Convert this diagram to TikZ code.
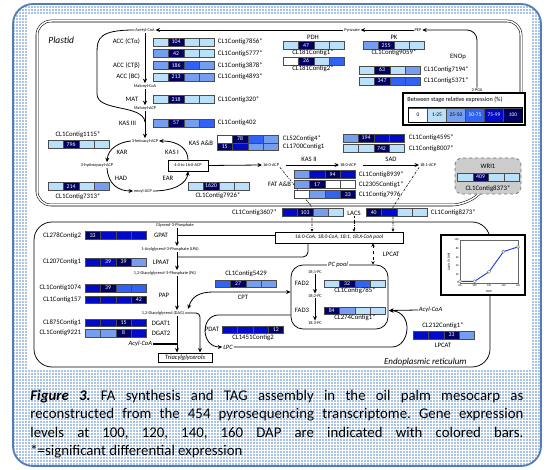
\documentclass[tikz,border=0pt]{standalone}
\usepackage{fontspec}
\setmainfont{Carlito}
\usetikzlibrary{arrows.meta,positioning}

\definecolor{lv0}{RGB}{255,255,255}
\definecolor{lv1}{RGB}{186,224,250}
\definecolor{lv2}{RGB}{118,158,240}
\definecolor{lv3}{RGB}{48,98,245}
\definecolor{lv4}{RGB}{0,10,200}
\definecolor{lv5}{RGB}{0,0,100}
\definecolor{frameblue}{RGB}{84,124,182}
\definecolor{gridblue}{RGB}{170,196,232}
\definecolor{wrifill}{RGB}{204,204,204}
\definecolor{plotline}{RGB}{30,50,240}

\tikzset{every picture/.style={line width=0.75pt}}
\tikzset{
  cell/.style={draw=black!70, line width=0.4pt, minimum width=15.4pt, minimum height=7.6pt,
    inner sep=0pt, text=white, font=\fontsize{5.8}{6}\selectfont},
  legcell/.style={draw=black!70, line width=0.4pt, minimum width=19pt, minimum height=14pt,
    inner sep=0pt, font=\fontsize{5.4}{6}\selectfont},
  met/.style={font=\fontsize{4.3}{5}\selectfont, inner sep=0.6pt},
  enz/.style={font=\fontsize{6.7}{7}\selectfont, inner sep=0.6pt},
  ctg/.style={font=\fontsize{6.8}{7}\selectfont, inner sep=0.6pt},
  flow/.style={line width=0.8pt, -{Stealth[length=4.5pt,width=4pt]}},
  fadash/.style={line width=0.6pt, dash pattern={on 2.2pt off 1.2pt on 0.6pt off 1.2pt}, -{Stealth[length=3pt,width=3pt]}},
  membrane/.style={double, double distance=1.5pt, line width=0.55pt},
  tick/.style={inner sep=0.5pt, font=\fontsize{2.8}{3}\selectfont},
  capline/.style={anchor=west, inner sep=0pt, font=\fontsize{14.8}{18}\selectfont\frenchspacing},
}

% four cells, one per stage (100, 120, 140, 160 DAP)
\newcommand{\exbar}[4]{%
  \foreach \c/\t [count=\i] in {#4}
    \node[cell, fill=\c] (#1\i) at (#2+\i*15.4-7.7, #3) {\t};
}

\begin{document}
\begin{tikzpicture}[x=1pt,y=-1pt]
\useasboundingbox (0,0) rectangle (551,470);
%Shape: framed backdrop
\fill[gridblue, rounded corners=20pt] (13,4) rectangle (541,466);
\begin{scope}
\clip[rounded corners=20pt] (13,4) rectangle (541,466);
\draw[white, line width=1pt, step=3pt] (13,4) grid (541,466);
\end{scope}
\draw[frameblue, line width=1.8pt, rounded corners=20pt] (13,4) rectangle (541,466);
\fill[white] (28,14) rectangle (532,370);

%Double Lines: plastid envelope
\draw[membrane, rounded corners=14pt] (521,110) -- (521,21) -- (37,21) -- (37,205) -- (466,205) -- (486,188);
\draw[membrane] (493,118) -- (493,170);
%Rounded Rect: ER
\draw[rounded corners=18pt] (34,222) rectangle (490,367);

% Text Node
\node[anchor=west, inner sep=0pt, font=\fontsize{9.5}{10}\selectfont\itshape] (plastid) at (48,40) {Plastid};
\node[anchor=east, inner sep=0pt, font=\fontsize{9}{10}\selectfont\itshape] (er) at (467,362) {Endoplasmic reticulum};

%% glycolysis end and ACC / MAT
\node[met] (acoa) at (145,30) {Acetyl-CoA};
\node[met] (pyr) at (352,30) {Pyruvate};
\node[met] (pep) at (418,30) {PEP};
\node[met] (pga) at (477,90) {2-PGA};
\node[met] (malcoa) at (145,86) {Malonyl-CoA};
\node[met] (malacp) at (145,108) {Malonyl-ACP};
\node[met] (ketoacyl) at (145,141) {3-ketoacyl-ACP};
\draw[flow] (pyr) -- (acoa);
\draw[flow] (pep) -- (pyr);
\draw[flow, rounded corners=10pt] (pga.north) |- (pep.east);
\draw[flow] (acoa) -- (malcoa);
\draw[flow] (malcoa) -- (malacp);
\draw[flow] (malacp) -- (ketoacyl);
\draw[line width=0.8pt] (acoa.west) .. controls (100,30) and (97,38) .. (97,52) -- (97,94) .. controls (97,112) and (143,104) .. (145,122);

\node[enz, anchor=east] (acca) at (141,42) {ACC (CTα)};
\node[enz, anchor=east] (accb) at (141,65.5) {ACC (CTβ)};
\node[enz, anchor=east] (accc) at (141,77) {ACC (BC)};
\node[enz, anchor=east] (mat) at (139,99.5) {MAT};
\exbar{acc1-}{153}{42}{lv1/{},lv5/104,lv1/{},lv1/{}}
\exbar{acc2-}{153}{53.5}{lv2/{},lv5/42,lv1/{},lv1/{}}
\exbar{acc3-}{153}{65.5}{lv2/{},lv5/186,lv3/{},lv2/{}}
\exbar{acc4-}{153}{77}{lv1/{},lv5/213,lv2/{},lv2/{}}
\exbar{mat-}{153}{99.5}{lv1/{},lv5/218,lv1/{},lv1/{}}
\node[ctg, anchor=west] (lacc1) at (217,42) {CL1Contig7856*};
\node[ctg, anchor=west] (lacc2) at (217,53.5) {CL1Contig5777*};
\node[ctg, anchor=west] (lacc3) at (217,65.5) {CL1Contig3878*};
\node[ctg, anchor=west] (lacc4) at (217,77) {CL1Contig4893*};
\node[ctg, anchor=west] (lmat) at (217,99.5) {CL1Contig320*};

%% PDH, PK, ENOp
\node[enz] (pdh) at (313,37) {PDH};
\exbar{pdh1-}{283}{45.5}{lv1/{},lv5/47,lv1/{},lv1/{}}
\node[ctg] (lpdh1) at (313,53) {CL181Contig1*};
\exbar{pdh2-}{283}{61}{lv0/{},lv5/26,lv1/{},lv3/{}}
\node[ctg] (lpdh2) at (313,69) {CL181Contig2*};
\node[enz] (pk) at (394,37) {PK};
\exbar{pk-}{363}{45.5}{lv2/{},lv5/255,lv1/{},lv1/{}}
\node[ctg] (lpk) at (394,53) {CL1Contig9059*};
\node[enz] (eno) at (458,57) {ENOp};
\exbar{eno1-}{359}{70}{lv1/{},lv5/63,lv1/{},lv2/{}}
\exbar{eno2-}{359}{81}{lv1/{},lv5/347,lv3/{},lv3/{}}
\node[ctg, anchor=west] (leno1) at (423,70) {CL1Contig7194*};
\node[ctg, anchor=west] (leno2) at (423,81) {CL1Contig5371*};

%% legend
\node[draw, line width=1.3pt, fill=white, minimum width=122pt, minimum height=32pt, inner sep=0pt] (legend) at (464,109) {};
\node[anchor=west, inner sep=0pt, font=\fontsize{6.2}{7}\selectfont] (legtitle) at (407,100) {Between stage relative expression (\%)};
\foreach \c/\t/\k [count=\i] in {lv0/0/black, lv1/1-25/black, lv2/25-50/black, lv3/50-75/white, lv4/75-99/white, lv5/100/white}
  \node[legcell, fill=\c, text=\k] (key\i) at (399+\i*19, 115) {\t};
\draw[line width=0.9pt] (key1.north west) rectangle (key6.south east);

%% WRI1
\node[draw=black!55, dashed, fill=wrifill, rounded corners=7pt, minimum width=66pt, minimum height=36pt] (wribox) at (488,176) {};
\node[enz] (wri) at (488,166) {WRI1};
\exbar{wri-}{457.5}{177}{lv1/{},lv5/409,lv1/{},lv1/{}}
\node[ctg] (lwri) at (488,188.5) {CL1Contig8373*};

%% fatty acid synthase cycle
\node[enz, anchor=east] (kas3) at (137,123) {KAS III};
\exbar{kas3-}{153}{123}{lv2/{},lv5/57,lv2/{},lv3/{}}
\node[ctg, anchor=west] (lkas3) at (217,123) {CL1Contig402};
\node[met] (hydroxy) at (97,165) {3-hydroxyacyl-ACP};
\node[met] (enoyl) at (143,191) {enoyl-ACP};
\node[draw, met, line width=0.5pt, minimum width=40pt, minimum height=11pt] (acpbox) at (188,165.5) {4:0 to 16:0-ACP};
\node[met] (c16) at (271,165) {16:0-ACP};
\node[met] (c180) at (348,165) {18:0-ACP};
\node[met] (c181) at (428,165) {18:1-ACP};
\draw[flow] (ketoacyl.west) .. controls (120,142) and (108,148) .. ([xshift=10pt]hydroxy.north);
\draw[flow] ([xshift=10pt]hydroxy.south) .. controls (108,184) and (118,191) .. (enoyl.west);
\draw[flow] (enoyl.east) .. controls (175,191) and (187,183) .. (acpbox.south);
\draw[flow] (acpbox.north) .. controls (188,150) and (180,141) .. (ketoacyl.east);
\draw[flow] (acpbox.east) -- (c16.west);
\draw[flow, shorten <=6pt] (c16.east) -- (c180.west);
\draw[flow, shorten <=6pt] (c180.east) -- (c181.west);
\node[enz] (kar) at (122,152) {KAR};
\node[enz] (had) at (121,178) {HAD};
\node[enz] (ear) at (168,178) {EAR};
\node[enz] (kas1) at (172,152) {KAS I};
\node[enz] (kas2) at (309,159) {KAS II};
\node[enz] (sad) at (391,159) {SAD};
\node[ctg] (lkar) at (78,135) {CL1Contig1115*};
\exbar{kar-}{48}{144.5}{lv1/{},lv5/796,lv1/{},lv1/{}}
\exbar{had-}{48}{186.5}{lv1/{},lv5/214,lv1/{},lv2/{}}
\node[ctg] (lhad) at (78,196.5) {CL1Contig7313*};
\exbar{ear-}{188}{186}{lv1/{},lv5/1620,lv1/{},lv1/{}}
\node[ctg] (lear) at (218,196) {CL1Contig7926*};
\node[enz, anchor=east] (kasab) at (214,143) {KAS A\&B};
\exbar{kasa-}{217}{139}{lv0/{},lv5/78,lv3/{},lv2/{}}
\exbar{kasb-}{217}{146.6}{lv5/15,lv4/{},lv2/{},lv2/{}}
\node[ctg, anchor=west] (lkasa) at (282,139) {CL52Contig4*};
\node[ctg, anchor=west] (lkasb) at (282,147) {CL1700Contig1};
\exbar{sad1-}{343}{138}{lv2/{},lv5/194,lv4/{},lv4/{}}
\exbar{sad2-}{343}{148.5}{lv1/{},lv1/{},lv5/742,lv1/{}}
\node[ctg, anchor=west] (lsad1) at (408,138) {CL1Contig4595*};
\node[ctg, anchor=west] (lsad2) at (408,148.5) {CL1Contig8007*};

%% export: FAT, LACS, acyl-CoA pool
\node[draw, fill=white, line width=0.6pt, minimum width=128pt, minimum height=11pt, inner sep=0pt, font=\fontsize{5.4}{6}\selectfont\itshape] (pool) at (339,237.5) {16:0-CoA, 18:0-CoA, 18:1, 18:X-CoA pool};
\node[enz] (lacs) at (354,213) {LACS};
\coordinate (fa1) at (312,207);
\coordinate (fa3) at (393,207);
\draw[fadash] (c16.south east) -- (fa1) -- (fa1 |- pool.north);
\draw[fadash] (lacs.south) -- (lacs.south |- pool.north);
\draw[fadash] (c181.south west) -- (fa3) -- (fa3 |- pool.north);
\node[enz, anchor=east] (fat) at (292,184.5) {FAT A\&B};
\exbar{fat1-}{294}{174.5}{lv2/{},lv4/{},lv5/94,lv4/{}}
\exbar{fat2-}{294}{184.5}{lv2/{},lv5/17,lv0/{},lv0/{}}
\exbar{fat3-}{294}{194.5}{lv0/{},lv2/{},lv3/{},lv5/33}
\node[ctg, anchor=west] (lfat1) at (358,174.5) {CL1Contig8939*};
\node[ctg, anchor=west] (lfat2) at (358,184.5) {CL2305Contig1*};
\node[ctg, anchor=west] (lfat3) at (358,194.5) {CL1Contig7976};
\node[ctg, anchor=east] (llacs1) at (278,212.5) {CL1Contig3607*};
\exbar{lacs1-}{282}{212.5}{lv4/{},lv5/103,lv2/{},lv1/{}}
\exbar{lacs2-}{366}{212.5}{lv5/40,lv4/{},lv1/{},lv1/{}}
\node[ctg, anchor=west] (llacs2) at (430,212.5) {CL1Contig8273*};

%% Kennedy pathway
\coordinate (kx) at (177,0);
\node[met] (g3p) at (175,225) {Glycerol-3-Phosphate};
\node[met] (lpa) at (170,249) {1-Acylglycerol-3-Phosphate (LPA)};
\node[met] (pa) at (165,273) {1,2-Diacylglycerol-3-Phosphate (PA)};
\node[met] (dag) at (163,313) {1,2-Diacylglycerol (DAG)};
\node[draw, line width=0.5pt, minimum width=54pt, minimum height=9.5pt, inner sep=0pt, font=\fontsize{6.5}{7}\selectfont\itshape] (tag) at (185,357.5) {Triacylglycerols};
\draw[flow] (g3p.south -| kx) -- (lpa.north -| kx);
\draw[flow] (lpa.south -| kx) -- (pa.north -| kx);
\draw[flow] (pa.south -| kx) -- (dag.north -| kx);
\draw[flow] (dag.south -| kx) -- (tag.north -| kx);
\draw[flow, rounded corners=4pt] (dag.east) -| ([xshift=15pt]tag.north);
\draw[line width=0.8pt] ([yshift=2.5pt]pool.west) -- (177.4,235);
\draw[line width=0.8pt, rounded corners=5pt] ([xshift=-31pt]pool.south) |- (177.4,257);
\node[enz] (gpat) at (161,235) {GPAT};
\node[enz] (lpaat) at (161,262) {LPAAT};
\node[enz] (pap) at (164,295) {PAP};
\node[enz] (dgat1) at (161,323) {DGAT1};
\node[enz] (dgat2) at (161,333) {DGAT2};
\node[anchor=east, inner sep=0.6pt, font=\fontsize{6.5}{7}\selectfont\itshape] (acyl1) at (153,344) {Acyl-CoA};
\draw[line width=1.7pt] (acyl1.east) -- (176.5,344);
\exbar{gpat-}{85}{235.5}{lv5/33,lv4/{},lv4/{},lv4/{}}
\exbar{lpaat-}{85}{262}{lv4/{},lv4/39,lv5/39,lv2/{}}
\exbar{pap1-}{85}{288}{lv4/{},lv5/39,lv3/{},lv3/{}}
\exbar{pap2-}{85}{299.5}{lv4/{},lv4/{},lv4/{},lv5/42}
\exbar{dgat1-}{85}{322.5}{lv4/{},lv4/{},lv5/15,lv4/{}}
\exbar{dgat2-}{85}{333}{lv2/{},lv2/{},lv5/8,lv4/{}}
\node[ctg, anchor=east] (lgpat) at (82,235.5) {CL278Contig2};
\node[ctg, anchor=east] (llpaat) at (82,262) {CL207Contig1};
\node[ctg, anchor=east] (lpap1) at (82,288) {CL1Contig1074};
\node[ctg, anchor=east] (lpap2) at (82,299.5) {CL1Contig157};
\node[ctg, anchor=east] (ldgat1) at (82,322.5) {CL875Contig1};
\node[ctg, anchor=east] (ldgat2) at (82,333) {CL1Contig9221};

%% PC pool, CPT, PDAT, LPCAT
\node[draw, rounded corners=12pt, minimum width=97pt, minimum height=64pt] (pcpool) at (339.5,297) {};
\node[fill=white, inner sep=1pt, font=\fontsize{6.5}{7}\selectfont\itshape] (pclab) at (338,265) {PC pool};
\node[met] (pc181) at (315,272) {18:1-PC};
\node[met] (pc182) at (315,296) {18:2-PC};
\node[met] (pc183) at (315,323) {18:3-PC};
\draw[flow] (pc181) -- (pc182);
\draw[flow] (pc182) -- (pc183);
\node[enz] (fad2) at (302,283) {FAD2};
\node[enz] (fad3) at (302,310) {FAD3};
\exbar{fad2-}{324}{283.5}{lv1/{},lv5/32,lv3/{},lv1/{}}
\node[ctg] (lfad2) at (355,291) {CL1Contig785*};
\exbar{fad3-}{324}{310.5}{lv5/84,lv2/{},lv1/{},lv1/{}}
\node[ctg] (lfad3) at (355,318) {CL274Contig1*};
\draw[line width=0.6pt, dashed, {Stealth[length=3.5pt,width=3.5pt]}-{Stealth[length=3.5pt,width=3.5pt]}] ([xshift=34pt]pool.south) -- ([xshift=34pt]pool.south |- pcpool.north);
\node[enz, anchor=west] (lpcat1) at (382,254) {LPCAT};

\node[ctg] (lcpt) at (246,274) {CL1Contig5429};
\exbar{cpt-}{215}{283.5}{lv3/{},lv5/27,lv2/{},lv2/{}}
\node[enz] (cpt) at (243,297) {CPT};
\draw[line width=0.8pt, {Stealth[length=4.5pt,width=4pt]}-{Stealth[length=4.5pt,width=4pt]}] (188,309) .. controls (192,297) and (198,292) .. (214,292) -- (pcpool.west |- 0,292);

\node[inner sep=0.6pt, font=\fontsize{6.5}{7}\selectfont\itshape] (lpc) at (228,347) {LPC};
\draw[flow] (pcpool.west |- 0,315) -- (218,315) .. controls (200,316) and (201,347) .. (lpc.west);
\node[enz, anchor=east] (pdat) at (220,329) {PDAT};
\exbar{pdat-}{222}{329.5}{lv4/{},lv4/{},lv4/{},lv5/12}
\node[ctg] (lpdat) at (253,338) {CL1451Contig2};

\coordinate (pcin) at (389,310.5);
\node[anchor=west, inner sep=0.6pt, font=\fontsize{6.5}{7}\selectfont\itshape] (acyl2) at (418,310) {Acyl-CoA};
\draw[flow] (acyl2.west) -- (pcin);
\draw[flow] (lpc.east) -- (392,347) .. controls (410,347) and (414,312) .. (pcin);
\node[ctg] (llpcat) at (443,326) {CL212Contig1*};
\exbar{lpcat-}{413}{335}{lv4/{},lv4/{},lv5/33,lv2/{}}
\node[enz] (lpcat2) at (443,345) {LPCAT};

%Inset: lipid accumulation
\node[draw, line width=1.3pt, fill=white, minimum width=84pt, minimum height=60pt] (plot) at (483,265) {};
\draw[black!60, line width=0.4pt] (460,240) rectangle (518,283);
\foreach \v in {0,20,...,100}
  \node[tick, anchor=east] (yt\v) at (459.5,283-\v*0.43) {\v};
\foreach \d in {80,100,...,160}
  \node[tick, anchor=north] (xt\d) at (\d*0.725+402,284) {\d};
\node[rotate=90, inner sep=0pt, font=\fontsize{3.2}{4}\selectfont] (ylab) at (449,262) {Lipids (\% DW)};
\node[inner sep=0pt, font=\fontsize{3.2}{4}\selectfont] (xlab) at (489,291) {DAP};
\draw[plotline, line width=0.9pt] (460,281.3) -- (474.5,281.3) -- (489,271.8) -- (503.5,251.6) -- (518,246.9);
\foreach \p in {(460,281.3),(474.5,281.3),(489,271.8),(503.5,251.6),(518,246.9)}
  \draw[black!55, fill=white, line width=0.4pt] \p circle (1.6pt);

% Text Node: caption
\node[capline] (cap1) at (30,397) {\makebox[493pt][s]{\textbf{\textit{Figure 3.}} FA synthesis and TAG assembly in the oil palm mesocarp as}};
\node[capline] (cap2) at (30,415) {\makebox[493pt][s]{reconstructed from the 454 pyrosequencing transcriptome. Gene expression}};
\node[capline] (cap3) at (30,433.5) {\makebox[493pt][s]{levels at 100, 120, 140, 160 DAP are indicated with colored bars.}};
\node[capline] (cap4) at (30,452) {*=significant differential expression};
\end{tikzpicture}
\end{document}
